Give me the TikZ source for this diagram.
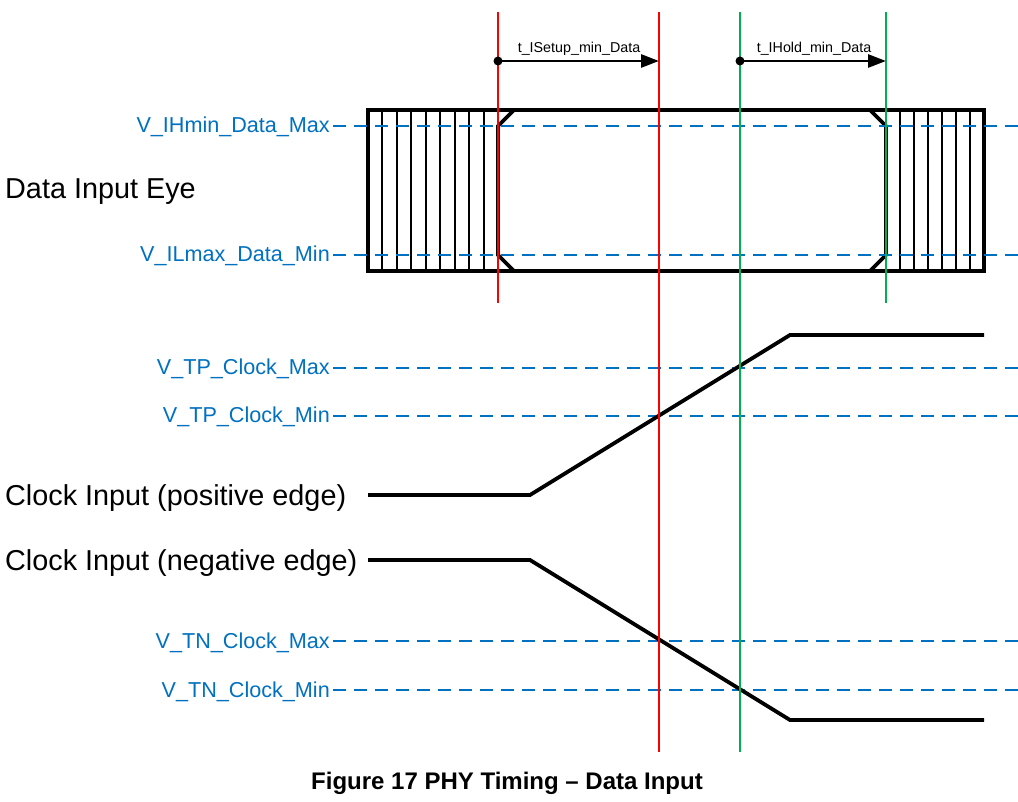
\documentclass[tikz,border=0pt]{standalone}
\usepackage{fontspec}
\setmainfont{Liberation Sans}
\usetikzlibrary{arrows.meta}
\definecolor{lvlblue}{RGB}{0,112,192}
\definecolor{tred}{RGB}{255,0,0}
\definecolor{tgreen}{RGB}{0,176,80}
\begin{document}
\begin{tikzpicture}[x=1pt,y=-1pt,
  lvl/.style={draw=lvlblue,line width=1.8pt,dash pattern=on 13pt off 8pt},
  lvltxt/.style={text=lvlblue,font=\fontsize{21.6}{24}\selectfont,anchor=base east,inner sep=0pt},
  sigtxt/.style={font=\fontsize{28.8}{32}\selectfont,anchor=base west,inner sep=0pt},
  meastxt/.style={font=\fontsize{14.3}{16}\selectfont,anchor=base,inner sep=0pt},
  sig/.style={draw=black,line width=3.8pt,line join=miter},
  eyebox/.style={draw=black,line width=3.6pt,line join=miter},
  hatch/.style={draw=black,line width=2pt},
  vred/.style={draw=tred,line width=2pt},
  vgrn/.style={draw=tgreen,line width=2pt},
  meas/.style={draw=black,line width=2.8pt,-{Triangle[length=18pt,width=13pt]}},
  mdot/.style={circle,fill=black,inner sep=0pt,minimum size=9pt}
]
\useasboundingbox (0,0) rectangle (1018,802);

% ---- level labels ----
\node[lvltxt] (lIH) at (330,133) {V\_IHmin\_Data\_Max};
\node[lvltxt] (lIL) at (330,262) {V\_ILmax\_Data\_Min};
\node[lvltxt] (lTPmax) at (330,375) {V\_TP\_Clock\_Max};
\node[lvltxt] (lTPmin) at (330,423) {V\_TP\_Clock\_Min};
\node[lvltxt] (lTNmax) at (330,648) {V\_TN\_Clock\_Max};
\node[lvltxt] (lTNmin) at (330,697) {V\_TN\_Clock\_Min};

% ---- signal labels ----
\node[sigtxt] (tEye) at (5,199) {Data Input Eye};
\node[sigtxt] (tPos) at (5,505) {Clock Input (positive edge)};
\node[sigtxt] (tNeg) at (5,570) {Clock Input (negative edge)};

% ---- eye: hatching ----
\foreach \k in {1,...,8} {
  \draw[hatch] ({368+\k*130/9},110) -- ({368+\k*130/9},271);
}
\foreach \k in {1,...,6} {
  \draw[hatch] ({886+\k*14},110) -- ({886+\k*14},271);
}
% eye box
\draw[eyebox] (368,110) rectangle (984,271);
% eye opening (hexagon)
\coordinate (h1) at (498,126);
\coordinate (h2) at (514,110);
\coordinate (h3) at (870,110);
\coordinate (h4) at (886,126);
\coordinate (h5) at (886,255);
\coordinate (h6) at (870,271);
\coordinate (h7) at (514,271);
\coordinate (h8) at (498,255);
\draw[eyebox] (h1) -- (h2) -- (h3) -- (h4) -- (h5) -- (h6) -- (h7) -- (h8) -- cycle;

% ---- dashed levels ----
\foreach \yy in {126,255,368,416,641,690} {
  \draw[lvl] (333,\yy) -- (1018,\yy);
}

% ---- clocks ----
\coordinate (p0) at (368,495);
\coordinate (p1) at (530,495);
\coordinate (p2) at (790,335);
\coordinate (p3) at (984,335);
\draw[sig] (p0) -- (p1) -- (p2) -- (p3);
\coordinate (n0) at (368,560);
\coordinate (n1) at (530,560);
\coordinate (n2) at (790,720);
\coordinate (n3) at (984,720);
\draw[sig] (n0) -- (n1) -- (n2) -- (n3);

% ---- timing verticals ----
\coordinate (r1t) at (498,12);  \coordinate (r1b) at (498,303);
\coordinate (r2t) at (659,12);  \coordinate (r2b) at (659,752);
\coordinate (g1t) at (740,12);  \coordinate (g1b) at (740,752);
\coordinate (g2t) at (886,12);  \coordinate (g2b) at (886,303);
\draw[vred] (r1t) -- (r1b);
\draw[vred] (r2t) -- (r2b);
\draw[vgrn] (g1t) -- (g1b);
\draw[vgrn] (g2t) -- (g2b);

% ---- measurements ----
\node[mdot] (s0) at (498,61) {};
\coordinate (s1) at (659,61);
\draw[meas] (s0.center) -- (s1);
\node[meastxt] (sl) at (579,53) {t\_ISetup\_min\_Data};
\node[mdot] (d0) at (740,61) {};
\coordinate (d1) at (886,61);
\draw[meas] (d0.center) -- (d1);
\node[meastxt] (dl) at (814,53) {t\_IHold\_min\_Data};

% ---- caption ----
\node[font=\bfseries\fontsize{24}{28}\selectfont,anchor=base,inner sep=0pt] (cap) at (507,789) {Figure 17 PHY Timing – Data Input};
\end{tikzpicture}
\end{document}
